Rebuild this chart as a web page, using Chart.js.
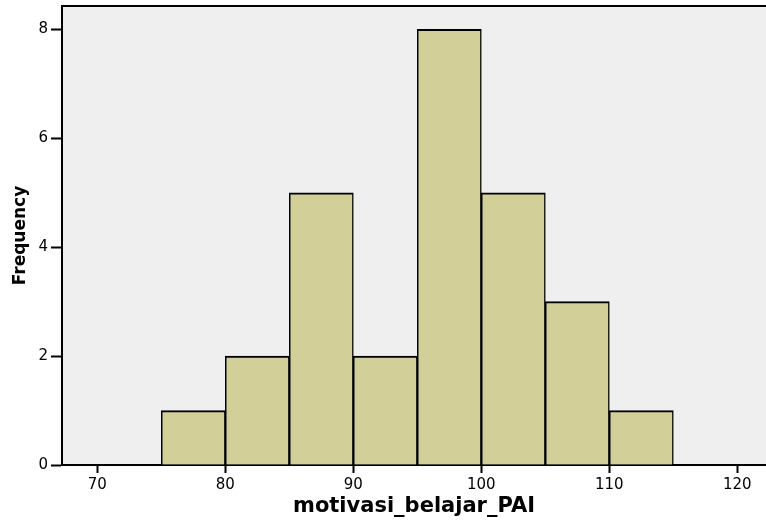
<!DOCTYPE html>
<html>
<head>
<meta charset="utf-8">
<script src="https://cdn.jsdelivr.net/npm/chart.js@4/dist/chart.umd.min.js"></script>
<style>
html,body{margin:0;padding:0;background:#fff;}
#wrap{width:766px;height:527px;position:relative;}
</style>
</head>
<body>
<div id="wrap"><canvas id="c"></canvas></div>
<script>
// Histogram bins (centres of 5-unit bins) and frequencies
const binCenters = [77.5, 82.5, 87.5, 92.5, 97.5, 102.5, 107.5, 112.5];
const frequencies = [1, 2, 5, 2, 8, 5, 3, 1];
const xTicks = [70, 80, 90, 100, 110, 120];
const yTicks = [0, 2, 4, 6, 8];
const xTitle = 'motivasi_belajar_PAI';
const yTitle = 'Frequency';

const plotBg = {
  id: 'plotBg',
  beforeDraw(chart) {
    const {ctx, chartArea: a} = chart;
    ctx.save();
    ctx.fillStyle = '#efefef';
    ctx.fillRect(a.left, a.top, a.right - a.left, a.bottom - a.top);
    ctx.restore();
  },
  afterDraw(chart) {
    const {ctx, chartArea: a} = chart;
    ctx.save();
    ctx.strokeStyle = '#000';
    ctx.lineWidth = 2;
    ctx.beginPath();
    ctx.moveTo(a.left - 1, a.top);
    ctx.lineTo(a.right, a.top);
    ctx.stroke();
    ctx.restore();
  }
};

new Chart(document.getElementById('c'), {
  type: 'bar',
  data: {
    datasets: [{
      data: binCenters.map((x, i) => ({x: x, y: frequencies[i]})),
      backgroundColor: '#d3cf98',
      borderColor: '#000',
      borderWidth: {top: 2, left: 1.5, right: 1.5, bottom: 0},
      borderSkipped: false,
      barPercentage: 1,
      categoryPercentage: 1
    }]
  },
  options: {
    responsive: true,
    maintainAspectRatio: false,
    animation: false,
    layout: {padding: {top: 6, right: 0, left: 0, bottom: 0}},
    plugins: {legend: {display: false}, tooltip: {enabled: false}},
    scales: {
      x: {
        type: 'linear',
        min: 67.24,
        max: 122.24,
        offset: false,
        afterBuildTicks(s) { s.ticks = xTicks.map(v => ({value: v})); },
        afterFit(s) { s.height = 62; s.paddingLeft = 0; s.paddingRight = 0; },
        grid: {display: true, drawOnChartArea: false, offset: false, tickLength: 8, tickWidth: 2, tickColor: '#000'},
        border: {display: true, color: '#000', width: 2},
        ticks: {color: '#000', padding: 3, font: {family: 'DejaVu Sans', size: 15}, maxRotation: 0, autoSkip: false},
        title: {display: true, text: xTitle, color: '#000', font: {family: 'DejaVu Sans', size: 21, weight: 'bold'}, padding: {top: 0, bottom: 8}}
      },
      y: {
        min: 0,
        max: 8.43,
        afterBuildTicks(s) { s.ticks = yTicks.map(v => ({value: v})); },
        afterFit(s) { s.width = 62; s.paddingTop = 0; s.paddingBottom = 0; },
        grid: {display: true, drawOnChartArea: false, tickLength: 11, tickWidth: 2, tickColor: '#000'},
        border: {display: true, color: '#000', width: 2},
        ticks: {color: '#000', padding: 3, font: {family: 'DejaVu Sans', size: 15}},
        title: {display: true, text: yTitle, color: '#000', font: {family: 'DejaVu Sans', size: 17, weight: 'bold'}, padding: {top: 10, bottom: 0}}
      }
    }
  },
  plugins: [plotBg]
});
</script>
</body>
</html>
